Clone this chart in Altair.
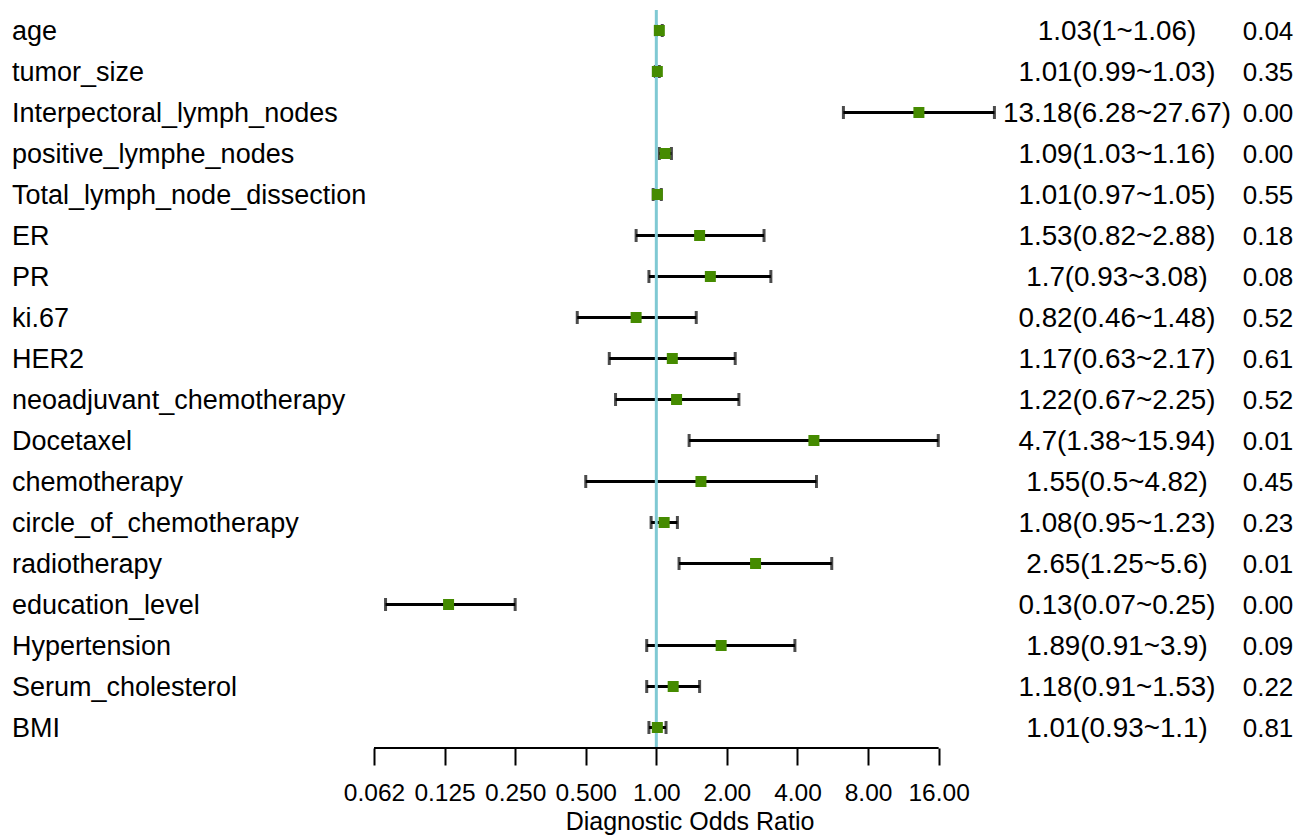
import altair as alt
import pandas as pd

variables = [
    "age", "tumor_size", "Interpectoral_lymph_nodes", "positive_lymphe_nodes",
    "Total_lymph_node_dissection", "ER", "PR", "ki.67", "HER2",
    "neoadjuvant_chemotherapy", "Docetaxel", "chemotherapy",
    "circle_of_chemotherapy", "radiotherapy", "education_level",
    "Hypertension", "Serum_cholesterol", "BMI",
]
estimates = [1.03, 1.01, 13.18, 1.09, 1.01, 1.53, 1.7, 0.82, 1.17, 1.22, 4.7, 1.55, 1.08, 2.65, 0.13, 1.89, 1.18, 1.01]
lower = [1, 0.99, 6.28, 1.03, 0.97, 0.82, 0.93, 0.46, 0.63, 0.67, 1.38, 0.5, 0.95, 1.25, 0.07, 0.91, 0.91, 0.93]
upper = [1.06, 1.03, 27.67, 1.16, 1.05, 2.88, 3.08, 1.48, 2.17, 2.25, 15.94, 4.82, 1.23, 5.6, 0.25, 3.9, 1.53, 1.1]
p_values = [0.04, 0.35, 0.00, 0.00, 0.55, 0.18, 0.08, 0.52, 0.61, 0.52, 0.01, 0.45, 0.23, 0.01, 0.00, 0.09, 0.22, 0.81]

tick_values = [0.0625, 0.125, 0.25, 0.5, 1, 2, 4, 8, 16]
tick_labels = ["0.062", "0.125", "0.250", "0.500", "1.00", "2.00", "4.00", "8.00", "16.00"]
x_domain = [0.0625, 30.7]


def fmt(v):
    return f"{v:g}"


ci_text = [f"{fmt(e)}({fmt(l)}~{fmt(u)})" for e, l, u in zip(estimates, lower, upper)]
p_text = [f"{p:.2f}" for p in p_values]

df = pd.DataFrame({
    "variable": variables,
    "est": estimates,
    "lo": lower,
    "hi": upper,
    "ci": ci_text,
    "p": p_text,
})

FONT = "Liberation Sans"
H = 738

yenc = alt.Y("variable:N", sort=variables,
             scale=alt.Scale(type="point", padding=0.5), axis=None)

# left column: variable names
left = alt.Chart(df).mark_text(align="left", baseline="middle", fontSize=27,
                               font=FONT, color="black", dy=1).encode(
    x=alt.value(4), y=yenc, text="variable:N"
).properties(width=366, height=H)

# forest plot
xscale = alt.Scale(type="log", base=2, domain=x_domain, nice=False)
label_expr = "[" + ",".join(f"'{t}'" for t in tick_labels) + "][round(log(datum.value)/LN2)+4]"
xaxis = alt.Axis(values=tick_values, labelExpr=label_expr, domain=False, grid=False,
                 tickSize=17, tickWidth=2, tickColor="black", labelFontSize=24.5,
                 labelColor="black", labelPadding=16, labelFont=FONT,
                 labelFlush=False, labelOverlap=False,
                 title="Diagnostic Odds Ratio", titleFontSize=25,
                 titleFontWeight="normal", titleFont=FONT, titleColor="black",
                 titlePadding=5)

bars = alt.Chart(df).mark_rule(color="black", strokeWidth=3).encode(
    x=alt.X("lo:Q", scale=xscale, axis=xaxis), x2="hi:Q", y=yenc)
cap_lo = alt.Chart(df).mark_tick(color="black", thickness=3, size=13).encode(
    x=alt.X("lo:Q", scale=xscale, axis=xaxis), y=yenc)
cap_hi = alt.Chart(df).mark_tick(color="black", thickness=3, size=13).encode(
    x=alt.X("hi:Q", scale=xscale, axis=xaxis), y=yenc)
ref = alt.Chart(pd.DataFrame({"ref": [1]})).mark_rule(color="#7fc9d3", strokeWidth=3).encode(
    x=alt.X("ref:Q", scale=xscale, axis=xaxis))
dom = alt.Chart(pd.DataFrame({"a": [tick_values[0]], "b": [tick_values[-1]]})).mark_rule(
    color="black", strokeWidth=2).encode(
    x=alt.X("a:Q", scale=xscale, axis=xaxis), x2="b:Q", y=alt.value(H))
pts = alt.Chart(df).mark_square(color="#458B00", size=121, opacity=1).encode(
    x=alt.X("est:Q", scale=xscale, axis=xaxis), y=yenc)

middle = alt.layer(bars, cap_lo, cap_hi, ref, dom, pts).properties(width=631, height=H)

# right columns: CI text and p-values
ci_col = alt.Chart(df).mark_text(align="center", baseline="middle", fontSize=27.8,
                                 font=FONT, color="black", dy=1).encode(
    x=alt.value(112), y=yenc, text="ci:N")
p_col = alt.Chart(df).mark_text(align="center", baseline="middle", fontSize=26,
                                font=FONT, color="black", dy=1).encode(
    x=alt.value(263), y=yenc, text="p:N")
right = alt.layer(ci_col, p_col).properties(width=296, height=H)

chart = alt.hconcat(left, middle, right, spacing=0, bounds="flush").properties(
    padding=0
).configure(font=FONT).configure_view(stroke=None, strokeWidth=0)

chart.save("out.html", embed_options={"renderer": "svg", "actions": False})
